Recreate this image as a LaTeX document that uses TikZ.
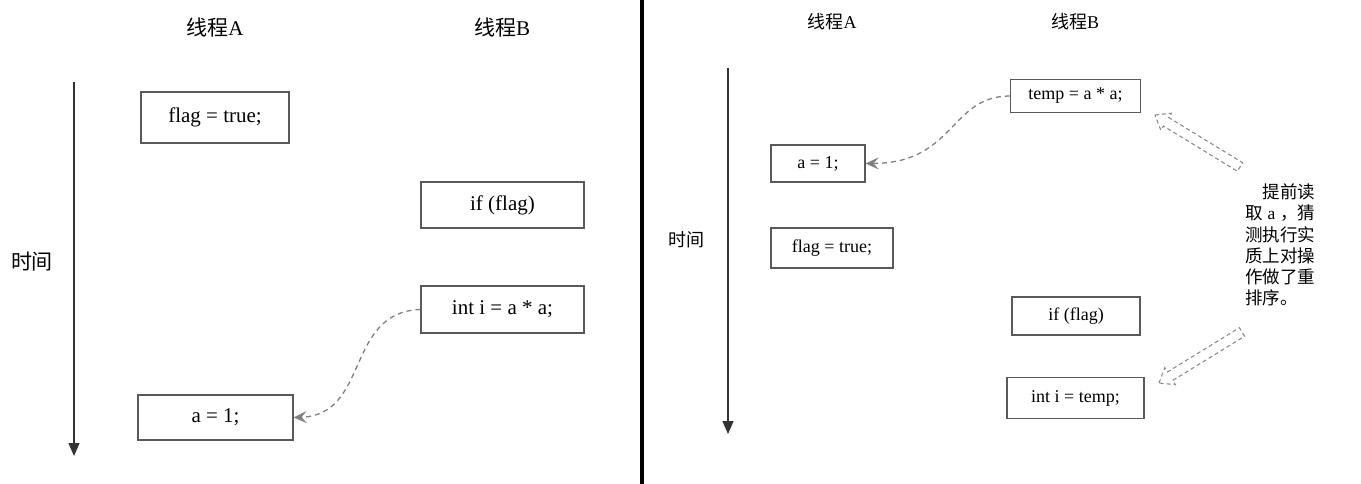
\documentclass[tikz,border=0pt]{standalone}
\usepackage{fontspec}
\setmainfont{Liberation Serif}
\newfontfamily\cjk{Noto Sans CJK SC}
\usetikzlibrary{arrows.meta,calc}
\newcommand\cc[1]{\makebox[17.5pt]{#1}}
\begin{document}
\begin{tikzpicture}[x=1pt,y=-1pt,
 box/.style={draw=black!65,line width=1.2pt,inner sep=0pt,fill=white},
 codeL/.style={box,font=\fontsize{21}{24}\selectfont},
 codeR/.style={box,font=\fontsize{18}{21}\selectfont},
 headL/.style={font=\fontsize{21}{24}\selectfont,inner sep=0pt},
 headR/.style={font=\fontsize{18}{20}\selectfont,inner sep=0pt},
 note/.style={anchor=west,inner sep=0pt,font=\fontsize{17.5}{20}\selectfont},
 flow/.style={draw=black!50,line width=1.3pt,dash pattern=on 5pt off 4pt,-{Stealth[length=13pt,width=12pt,inset=5pt]}},
 axis/.style={draw=black!80,line width=1.2pt,-{Triangle[length=13pt,width=11pt]}},
 hollow/.style={draw=black!45,line width=1.1pt,dash pattern=on 4pt off 3pt,line join=miter},
]
\useasboundingbox (0,0) rectangle (1361,484);
\fill[white] (0,0) rectangle (1361,484);

% divider
\coordinate (dtop) at (642,0);
\coordinate (dbot) at (642,484);
\draw[line width=3.5pt] (dtop) -- (dbot);

% ===== left panel =====
\node[headL] (lA) at (215,27) {{\cjk 线程}A};
\node[headL] (lB) at (502,27) {{\cjk 线程}B};
\node[headL] (lT) at (32,262) {\cjk 时间};
\coordinate (axLs) at (74,82);
\coordinate (axLe) at (74,456);
\draw[axis] (axLs) -- (axLe);

\node[codeL,minimum width=148pt,minimum height=51pt] (flagA) at (215,117.5) {flag = true;};
\node[codeL,minimum width=163pt,minimum height=46pt] (ifB) at (502.5,205) {if (flag)};
\node[codeL,minimum width=163pt,minimum height=47pt] (intB) at (502.5,309.5) {int i = a * a;};
\node[codeL,minimum width=155pt,minimum height=45pt] (aA) at (215.5,417.5) {a = 1;};

\draw[flow] (intB.west) .. controls (345,312) and (370,415) .. (aA.east);

% ===== right panel =====
\node[headR] (rA) at (832,22) {{\cjk 线程}A};
\node[headR] (rB) at (1075,22) {{\cjk 线程}B};
\node[headR] (rT) at (686,240) {\cjk 时间};
\coordinate (axRs) at (728,68);
\coordinate (axRe) at (728,434);
\draw[axis] (axRs) -- (axRe);

\node[codeR,minimum width=130pt,minimum height=33pt] (temp) at (1075.5,96) {temp = a * a;};
\node[codeR,minimum width=94pt,minimum height=37pt] (aR) at (818,163.5) {a = 1;};
\node[codeR,minimum width=122pt,minimum height=40pt] (flagR) at (832,248) {flag = true;};
\node[codeR,minimum width=128pt,minimum height=38pt] (ifR) at (1076,316) {if (flag)};
\node[codeR,minimum width=137pt,minimum height=41pt] (intR) at (1075.5,398) {int i = temp;};

\draw[flow] (temp.west) .. controls (950,96) and (955,163) .. (aR.east);

% hollow dashed block arrows
\coordinate (T1) at (1155,115);
\coordinate (E1) at (1240,167);
\coordinate (H1) at ($(T1)!13pt!(E1)$);
\draw[hollow] (T1) -- ($(H1)!10pt!90:(E1)$) -- ($(H1)!5pt!90:(E1)$) -- ($(E1)!5pt!-90:(H1)$)
  -- ($(E1)!5pt!90:(H1)$) -- ($(H1)!5pt!-90:(E1)$) -- ($(H1)!10pt!-90:(E1)$) -- cycle;

\coordinate (T2) at (1159,383);
\coordinate (E2) at (1242,332);
\coordinate (H2) at ($(T2)!13pt!(E2)$);
\draw[hollow] (T2) -- ($(H2)!10pt!90:(E2)$) -- ($(H2)!5pt!90:(E2)$) -- ($(E2)!5pt!-90:(H2)$)
  -- ($(E2)!5pt!90:(H2)$) -- ($(H2)!5pt!-90:(E2)$) -- ($(H2)!10pt!-90:(E2)$) -- cycle;

% note text
\node[note] (n1) at (1245,192) {\cc{}\cc{\cjk 提}\cc{\cjk 前}\cc{\cjk 读}};
\node[note] (n2) at (1245,213.5) {\cc{\cjk 取}\cc{a}\cc{\cjk ，}\cc{\cjk 猜}};
\node[note] (n3) at (1245,235) {\cc{\cjk 测}\cc{\cjk 执}\cc{\cjk 行}\cc{\cjk 实}};
\node[note] (n4) at (1245,256) {\cc{\cjk 质}\cc{\cjk 上}\cc{\cjk 对}\cc{\cjk 操}};
\node[note] (n5) at (1245,277) {\cc{\cjk 作}\cc{\cjk 做}\cc{\cjk 了}\cc{\cjk 重}};
\node[note] (n6) at (1245,298) {\cc{\cjk 排}\cc{\cjk 序}\cc{\cjk 。}};
\end{tikzpicture}
\end{document}
